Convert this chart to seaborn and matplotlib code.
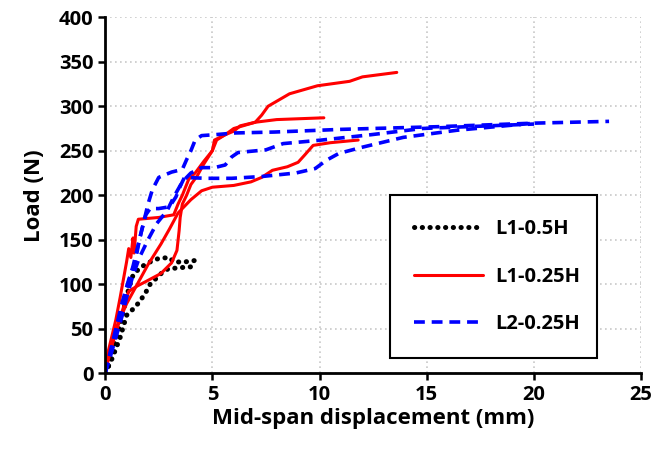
import matplotlib
matplotlib.use("Agg")
import matplotlib.pyplot as plt
import pandas as pd
import seaborn as sns

# L1-0.5H (two specimens)
l1_05h_a_x = [0, 0.2, 0.4, 0.7, 0.9, 1.1, 1.3, 1.6, 2.0, 2.5, 3.0, 3.2, 3.7, 4.3]
l1_05h_a_y = [0, 10, 30, 55, 75, 95, 110, 118, 124, 129, 130, 125, 125, 127]
l1_05h_b_x = [0, 0.3, 0.7, 1.0, 1.3, 1.6, 1.9, 2.1, 2.4, 2.7, 3.0, 3.3, 3.7, 4.3]
l1_05h_b_y = [0, 15, 40, 65, 72, 80, 91, 100, 107, 114, 118, 118, 119, 120]

# L1-0.25H (three specimens)
l1_025h_a_x = [0, 0.1, 0.3, 0.5, 0.7, 0.85, 1.0, 1.1, 1.2, 1.3, 1.35, 1.45, 1.55,
               2.5, 3.2, 3.4, 3.6, 3.9, 4.2, 4.6, 5.0, 5.2, 5.6, 6.0, 6.3, 7.0,
               8.0, 10.2]
l1_025h_a_y = [0, 20, 40, 60, 85, 105, 125, 140, 130, 152, 135, 165, 173,
               175, 178, 190, 200, 218, 225, 238, 250, 262, 268, 272, 278, 282,
               285, 287]
l1_025h_b_x = [0, 0.1, 0.3, 0.5, 0.8, 1.1, 1.5, 1.9, 2.6, 3.1, 3.35, 3.45, 3.5,
               3.6, 3.8, 4.0, 4.3, 4.6, 5.0, 5.1, 5.6, 6.0, 7.0, 7.3, 7.6, 8.6,
               9.9, 11.4, 12.0, 13.6]
l1_025h_b_y = [0, 18, 30, 45, 70, 92, 98, 103, 112, 124, 138, 160, 175,
               190, 200, 212, 222, 235, 250, 262, 268, 275, 282, 290, 300, 314,
               323, 328, 333, 338]
l1_025h_c_x = [0, 0.2, 0.5, 1.0, 1.5, 2.0, 2.6, 3.0, 3.4, 4.0, 4.5, 5.0, 6.0,
               6.8, 7.3, 7.8, 8.5, 9.0, 9.3, 9.7, 10.5, 11.8]
l1_025h_c_y = [0, 20, 50, 78, 100, 122, 145, 162, 180, 195, 205, 209, 211,
               215, 220, 228, 232, 237, 245, 256, 259, 262]

# L2-0.25H (three specimens)
l2_025h_a_x = [0, 0.2, 0.5, 0.8, 1.1, 1.4, 1.6, 1.8, 2.0, 2.2, 2.5, 3.1, 3.6,
               3.8, 4.0, 4.2, 4.5, 5.1, 6.1, 7.9, 11.0, 15.5, 20.0, 23.5]
l2_025h_a_y = [0, 20, 50, 80, 105, 125, 150, 170, 190, 206, 220, 226, 229,
               240, 250, 262, 267, 268, 270, 271, 274, 277, 281, 283]
l2_025h_b_x = [0, 0.2, 0.5, 0.8, 1.0, 1.3, 1.5, 1.7, 1.9, 2.1, 2.5, 3.0, 3.3,
               3.5, 3.7, 4.7, 5.9, 7.3, 8.9, 9.8, 10.3, 10.9, 12.0, 13.9, 16.4,
               20.0]
l2_025h_b_y = [0, 18, 45, 75, 95, 120, 140, 160, 178, 185, 185, 187, 198,
               210, 220, 219, 219, 221, 225, 230, 239, 247, 254, 265, 273, 281]
l2_025h_c_x = [0, 0.2, 0.5, 0.8, 1.0, 1.3, 1.6, 2.0, 2.4, 2.9, 3.2, 3.6, 4.0,
               4.5, 5.1, 5.6, 5.9, 6.2, 7.5, 8.3, 10.1, 12.4, 14.8, 20.0]
l2_025h_c_y = [0, 15, 40, 65, 85, 110, 130, 150, 168, 183, 198, 215, 225,
               231, 231, 234, 243, 248, 251, 258, 262, 268, 275, 280]

curves = [
    ("L1-0.5H", "a", l1_05h_a_x, l1_05h_a_y),
    ("L1-0.5H", "b", l1_05h_b_x, l1_05h_b_y),
    ("L1-0.25H", "a", l1_025h_a_x, l1_025h_a_y),
    ("L1-0.25H", "b", l1_025h_b_x, l1_025h_b_y),
    ("L1-0.25H", "c", l1_025h_c_x, l1_025h_c_y),
    ("L2-0.25H", "a", l2_025h_a_x, l2_025h_a_y),
    ("L2-0.25H", "b", l2_025h_b_x, l2_025h_b_y),
    ("L2-0.25H", "c", l2_025h_c_x, l2_025h_c_y),
]

styles = {
    "L1-0.5H": dict(color="black", lw=3.6, linestyle=(0, (0.05, 1.5)),
                    dash_capstyle="round"),
    "L1-0.25H": dict(color="#ff0000", lw=2.2, linestyle="-"),
    "L2-0.25H": dict(color="#0000ff", lw=2.6, linestyle=(0, (3.0, 1.9))),
}

sns.set_style("white")
plt.rcParams["font.family"] = ["Open Sans", "DejaVu Sans"]
plt.rcParams["font.weight"] = "bold"
plt.rcParams["text.color"] = "black"
plt.rcParams["axes.labelcolor"] = "black"

fig = plt.figure(figsize=(6.57, 4.54), dpi=100)
ax = fig.add_axes([0.160, 0.178, 0.816, 0.784])

for name, spec, xs, ys in curves:
    df = pd.DataFrame({"disp": xs, "load": ys})
    label = name if spec == "a" else None
    sns.lineplot(data=df, x="disp", y="load", ax=ax, sort=False,
                 estimator=None, label=label, **styles[name])

ax.set_xlim(0, 25)
ax.set_ylim(0, 400)
ax.set_xticks(range(0, 26, 5))
ax.set_yticks(range(0, 401, 50))
ax.grid(True, color="#c8c8c8", linestyle=(0, (1, 2)), lw=1.2)
ax.set_axisbelow(True)
for s in ["top", "right"]:
    ax.spines[s].set_visible(False)
for s in ["left", "bottom"]:
    ax.spines[s].set_color("black")
    ax.spines[s].set_linewidth(2)
ax.tick_params(axis="both", direction="out", length=5, width=1.8,
               labelsize=14.5, colors="black", left=True, bottom=True)
for lbl in ax.get_xticklabels() + ax.get_yticklabels():
    lbl.set_fontweight("bold")
ax.set_xlabel("Mid-span displacement (mm)", fontsize=16, fontweight="bold",
              color="black", labelpad=2)
ax.set_ylabel("Load (N)", fontsize=16, fontweight="bold", color="black",
              labelpad=10)

leg = ax.legend(loc="upper left", bbox_to_anchor=(0.532, 0.098, 0.386, 0.402),
                mode="expand", fontsize=14.5, frameon=True, fancybox=False,
                framealpha=1, handlelength=3.4, handletextpad=0.6,
                labelspacing=1.35, borderpad=1.2, borderaxespad=0)
leg.get_frame().set_edgecolor("black")
leg.get_frame().set_linewidth(1.5)
for t in leg.get_texts():
    t.set_fontweight("bold")
    t.set_color("black")

fig.savefig("out.png", dpi=100)
